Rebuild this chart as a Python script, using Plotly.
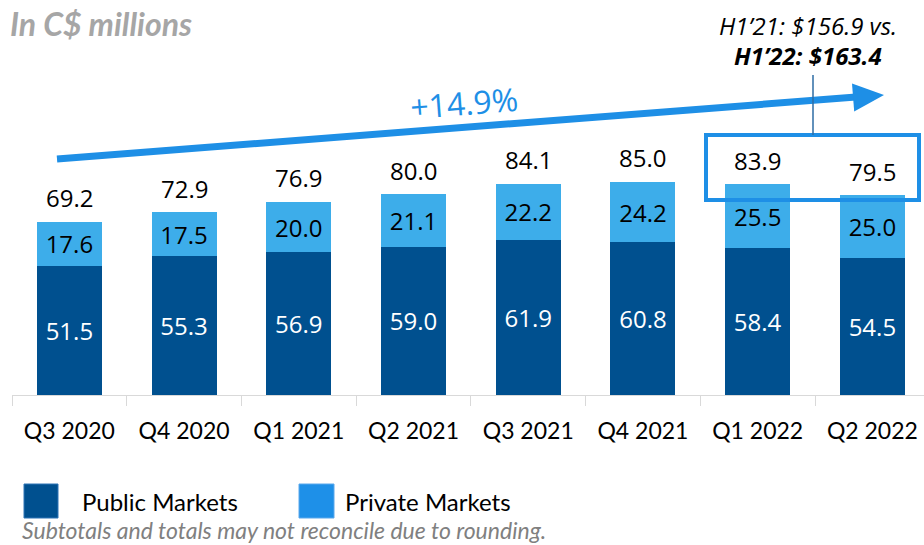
import plotly.graph_objects as go

categories = ["Q3 2020", "Q4 2020", "Q1 2021", "Q2 2021", "Q3 2021", "Q4 2021", "Q1 2022", "Q2 2022"]
public_markets = [51.5, 55.3, 56.9, 59.0, 61.9, 60.8, 58.4, 54.5]
private_markets = [17.6, 17.5, 20.0, 21.1, 22.2, 24.2, 25.5, 25.0]
totals = [69.2, 72.9, 76.9, 80.0, 84.1, 85.0, 83.9, 79.5]

DARK = "#00508F"
LIGHT = "#3DADEA"
ACCENT = "#1E8FE6"

W, H = 924, 545
L, B = 12, 150
PW, PH = W - L, H - B


def px(x):
    return (x - L) / PW


def py(y):
    return (H - B - y) / PH


fig = go.Figure()
fig.add_trace(go.Bar(
    x=categories, y=public_markets, name="Public Markets",
    marker=dict(color=DARK, line=dict(width=0)), width=0.567,
    text=[f"{v:.1f}" for v in public_markets], textposition="inside",
    insidetextanchor="middle", textangle=0,
    textfont=dict(color="white", size=24, family="Open Sans"),
))
fig.add_trace(go.Bar(
    x=categories, y=private_markets, name="Private Markets",
    marker=dict(color=LIGHT, line=dict(width=0)), width=0.567,
    text=[f"{v:.1f}" for v in private_markets], textposition="inside",
    insidetextanchor="middle", textangle=0,
    textfont=dict(color="black", size=24, family="Open Sans"),
))

annotations = []
for c, t in zip(categories, totals):
    annotations.append(dict(x=c, y=t, xref="x", yref="y", text=f"{t:.1f}",
                            showarrow=False, yanchor="middle", yshift=24,
                            font=dict(size=24, family="Open Sans", color="black")))

# title
annotations.append(dict(x=px(8), y=py(2), xref="paper", yref="paper", xanchor="left", yanchor="top",
                        text="<b><i>In C$ millions</i></b>", showarrow=False,
                        font=dict(size=32, family="Lato", color="#A6A6A6")))
# growth label
annotations.append(dict(x=px(464), y=py(102), xref="paper", yref="paper", xanchor="center", yanchor="middle",
                        text="+14.9%", showarrow=False, textangle=-4.4,
                        font=dict(size=32, family="Open Sans", color=ACCENT)))
# H1 callout
annotations.append(dict(x=px(808), y=py(25), xref="paper", yref="paper", xanchor="center", yanchor="middle",
                        text="<i>H1’21: $156.9 vs.</i>", showarrow=False,
                        font=dict(size=24, family="Open Sans", color="black")))
annotations.append(dict(x=px(808), y=py(56), xref="paper", yref="paper", xanchor="center", yanchor="middle",
                        text="<b><i>H1’22: $163.4</i></b>", showarrow=False,
                        font=dict(size=24, family="Open Sans", color="black")))
# legend
annotations.append(dict(x=px(80), y=py(501), xref="paper", yref="paper", xanchor="left", yanchor="middle",
                        text="Public Markets", showarrow=False,
                        font=dict(size=24, family="Lato", color="black")))
annotations.append(dict(x=px(343), y=py(501), xref="paper", yref="paper", xanchor="left", yanchor="middle",
                        text="Private Markets", showarrow=False,
                        font=dict(size=24, family="Lato", color="black")))
# footnote
annotations.append(dict(x=px(20), y=py(530), xref="paper", yref="paper", xanchor="left", yanchor="middle",
                        text="<i>Subtotals and totals may not reconcile due to rounding.</i>", showarrow=False,
                        font=dict(size=23, family="Lato", color="#808080")))

shapes = [
    # growth arrow line
    dict(type="line", xref="paper", yref="paper", x0=px(57), y0=py(159), x1=px(856), y1=py(97),
         line=dict(color=ACCENT, width=7)),
    # arrow head
    dict(type="path", xref="paper", yref="paper",
         path=f"M {px(884)} {py(95)} L {px(854.2)} {py(111.4)} L {px(852.0)} {py(83.4)} Z",
         fillcolor=ACCENT, line=dict(color=ACCENT, width=0)),
    # highlight box
    dict(type="rect", xref="paper", yref="paper", x0=px(706), x1=px(919), y0=py(135), y1=py(200),
         line=dict(color=ACCENT, width=4), fillcolor="rgba(0,0,0,0)", layer="above"),
    # callout connector
    dict(type="line", xref="paper", yref="paper", x0=px(813), x1=px(813), y0=py(75), y1=py(135),
         line=dict(color="#2E6DA4", width=1.5)),
    # legend swatches
    dict(type="rect", xref="paper", yref="paper", x0=px(24), x1=px(58), y0=py(484), y1=py(518),
         fillcolor=DARK, line=dict(color="#2E75B6", width=1)),
    dict(type="rect", xref="paper", yref="paper", x0=px(299), x1=px(334), y0=py(484), y1=py(518),
         fillcolor="#1E90E8", line=dict(color="#5BA8EC", width=1)),
]

fig.update_layout(
    barmode="stack", width=W, height=H,
    margin=dict(l=L, r=0, t=0, b=B, pad=0),
    plot_bgcolor="white", paper_bgcolor="white",
    showlegend=False,
    annotations=annotations, shapes=shapes,
    uniformtext=dict(mode=False),
    xaxis=dict(type="category", range=[-0.5, 7.45], showline=True, linecolor="#D9D9D9", linewidth=1,
               ticks="outside", tickson="boundaries", ticklen=10, tickcolor="#D9D9D9",
               showgrid=False, tickfont=dict(size=23, family="Lato", color="black"),
               ticklabelstandoff=15),
    yaxis=dict(range=[0, PH / 2.51], visible=False, showgrid=False, zeroline=False),
)

fig.write_html("out.html", config={"displayModeBar": False},
               post_script="document.body.style.margin='0px';document.body.style.overflow='hidden';")
